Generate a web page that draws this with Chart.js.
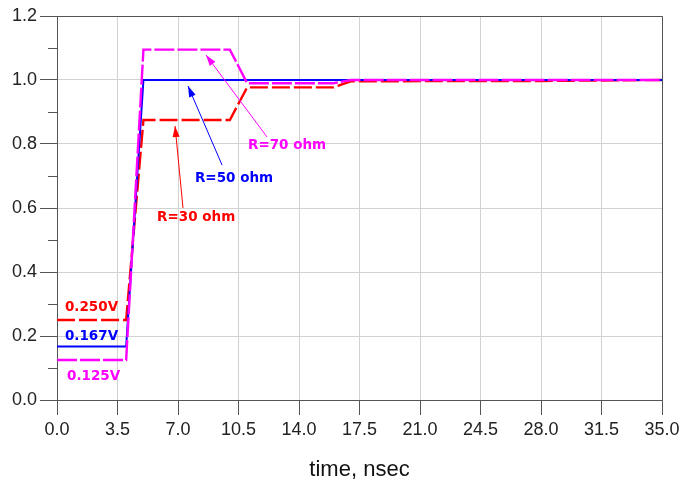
<!DOCTYPE html>
<html>
<head>
<meta charset="utf-8">
<script src="https://cdn.jsdelivr.net/npm/chart.js@4/dist/chart.umd.min.js"></script>
<style>
    html, body { margin: 0; padding: 0; background: #fff; }
    #wrap { width: 681px; height: 485px; position: relative; }
</style>
</head>
<body>
<div id="wrap"><canvas id="stepChart"></canvas></div>
<script>
// Data
const timeTicks = [0, 3.5, 7, 10.5, 14, 17.5, 21, 24.5, 28, 31.5, 35];
const voltTicks = [0, 0.2, 0.4, 0.6, 0.8, 1.0, 1.2];

// R=70 ohm (magenta)
const time70 = [0, 4.0, 5.0, 10.0, 11.0, 16.0, 17.0, 35];
const volt70 = [0.125, 0.125, 1.095, 1.095, 0.99, 0.99, 1.0, 1.0];

// R=50 ohm (blue)
const time50 = [0, 4.0, 5.0, 35];
const volt50 = [0.167, 0.167, 1.0, 1.0];

// R=30 ohm (red)
const time30 = [0, 4.0, 5.0, 10.0, 11.0, 16.0, 17.0, 28.0, 35];
const volt30 = [0.25, 0.25, 0.875, 0.875, 0.977, 0.977, 0.996, 0.997, 1.0];

// Labels with arrows, in data units (x = nsec, y = volts)
const labels = [
    { text: 'R=70 ohm', x: 11.05, y: 0.794, color: '#ff00ff', from: [12.15, 0.822], to: [8.62, 1.078] },
    { text: 'R=50 ohm', x: 7.98,  y: 0.692, color: '#0000ff', from: [9.55, 0.734], to: [7.58, 0.981] },
    { text: 'R=30 ohm', x: 5.79,  y: 0.570, color: '#ff0000', from: [7.29, 0.600], to: [6.83, 0.856] },
    { text: '0.250V',   x: 0.46,  y: 0.289, color: '#ff0000' },
    { text: '0.167V',   x: 0.46,  y: 0.200, color: '#0000ff' },
    { text: '0.125V',   x: 0.58,  y: 0.075, color: '#ff00ff' }
];

function toPoints(xs, ys) {
    return xs.map((x, i) => ({ x: x, y: ys[i] }));
}

// frame, minor ticks and labels
const extrasPlugin = {
    id: 'extras',
    afterDraw(chart) {
        const ctx = chart.ctx;
        const area = chart.chartArea;
        const sx = chart.scales.x;
        const sy = chart.scales.y;

        ctx.save();
        // top and right frame
        ctx.strokeStyle = '#555';
        ctx.lineWidth = 1;
        ctx.beginPath();
        ctx.moveTo(area.left, area.top + 0.5);
        ctx.lineTo(area.right + 0.5, area.top + 0.5);
        ctx.lineTo(area.right + 0.5, area.bottom);
        ctx.stroke();

        // minor ticks on y
        ctx.strokeStyle = '#555';
        for (let v = 0.1; v < 1.2; v += 0.2) {
            const py = Math.round(sy.getPixelForValue(v)) + 0.5;
            ctx.beginPath();
            ctx.moveTo(area.left - 9, py);
            ctx.lineTo(area.left, py);
            ctx.stroke();
        }

        // labels and arrows
        ctx.font = 'bold 13.5px "DejaVu Sans"';
        ctx.textBaseline = 'middle';
        ctx.textAlign = 'left';
        labels.forEach(l => {
            ctx.fillStyle = l.color;
            ctx.fillText(l.text, sx.getPixelForValue(l.x), sy.getPixelForValue(l.y));
            if (l.from) {
                const x1 = sx.getPixelForValue(l.from[0]);
                const y1 = sy.getPixelForValue(l.from[1]);
                const x2 = sx.getPixelForValue(l.to[0]);
                const y2 = sy.getPixelForValue(l.to[1]);
                ctx.strokeStyle = l.color;
                ctx.lineWidth = 1;
                ctx.beginPath();
                ctx.moveTo(x1, y1);
                ctx.lineTo(x2, y2);
                ctx.stroke();
                const ang = Math.atan2(y2 - y1, x2 - x1);
                const len = 11, half = 3.5;
                ctx.beginPath();
                ctx.moveTo(x2, y2);
                ctx.lineTo(x2 - len * Math.cos(ang) + half * Math.sin(ang), y2 - len * Math.sin(ang) - half * Math.cos(ang));
                ctx.lineTo(x2 - len * Math.cos(ang) - half * Math.sin(ang), y2 - len * Math.sin(ang) + half * Math.cos(ang));
                ctx.closePath();
                ctx.fill();
            }
        });
        ctx.restore();
    }
};

new Chart(document.getElementById('stepChart').getContext('2d'), {
    type: 'line',
    data: {
        datasets: [{
            label: 'R=70 ohm',
            data: toPoints(time70, volt70),
            borderColor: '#ff00ff',
            borderWidth: 2.4,
            borderDash: [20, 3]
        }, {
            label: 'R=50 ohm',
            data: toPoints(time50, volt50),
            borderColor: '#0000ff',
            borderWidth: 2
        }, {
            label: 'R=30 ohm',
            data: toPoints(time30, volt30),
            borderColor: '#ff0000',
            borderWidth: 2.4,
            borderDash: [18, 4]
        }]
    },
    options: {
        responsive: true,
        maintainAspectRatio: false,
        animation: false,
        events: [],
        elements: {
            point: { radius: 0 },
            line: { tension: 0, fill: false }
        },
        layout: {
            padding: { top: 16, right: 19, left: 0, bottom: 0 }
        },
        plugins: {
            legend: { display: false },
            tooltip: { enabled: false }
        },
        scales: {
            x: {
                type: 'linear',
                min: 0,
                max: 35,
                afterFit: scale => {
                    scale.height = 85;
                    scale.paddingLeft = 0;
                    scale.paddingRight = 0;
                },
                afterBuildTicks: scale => { scale.ticks = timeTicks.map(v => ({ value: v })); },
                ticks: {
                    callback: v => v.toFixed(1),
                    font: { family: '"Liberation Sans", Arial', size: 18 },
                    color: '#222',
                    padding: 4,
                    maxRotation: 0
                },
                grid: { color: '#d2d2d2', tickColor: '#555', tickLength: 15 },
                border: { color: '#555' },
                title: {
                    display: true,
                    text: 'time, nsec',
                    font: { family: '"Liberation Sans", Arial', size: 22 },
                    color: '#111',
                    padding: { top: 0, bottom: 2 }
                }
            },
            y: {
                min: 0,
                max: 1.2,
                afterFit: scale => {
                    scale.width = 57;
                    scale.paddingTop = 0;
                    scale.paddingBottom = 0;
                },
                afterBuildTicks: scale => { scale.ticks = voltTicks.map(v => ({ value: v })); },
                ticks: {
                    callback: v => v.toFixed(1),
                    font: { family: '"Liberation Sans", Arial', size: 18 },
                    color: '#222',
                    padding: 3
                },
                grid: { color: '#d2d2d2', tickColor: '#555', tickLength: 17 },
                border: { color: '#555' }
            }
        }
    },
    plugins: [extrasPlugin]
});
</script>
</body>
</html>
